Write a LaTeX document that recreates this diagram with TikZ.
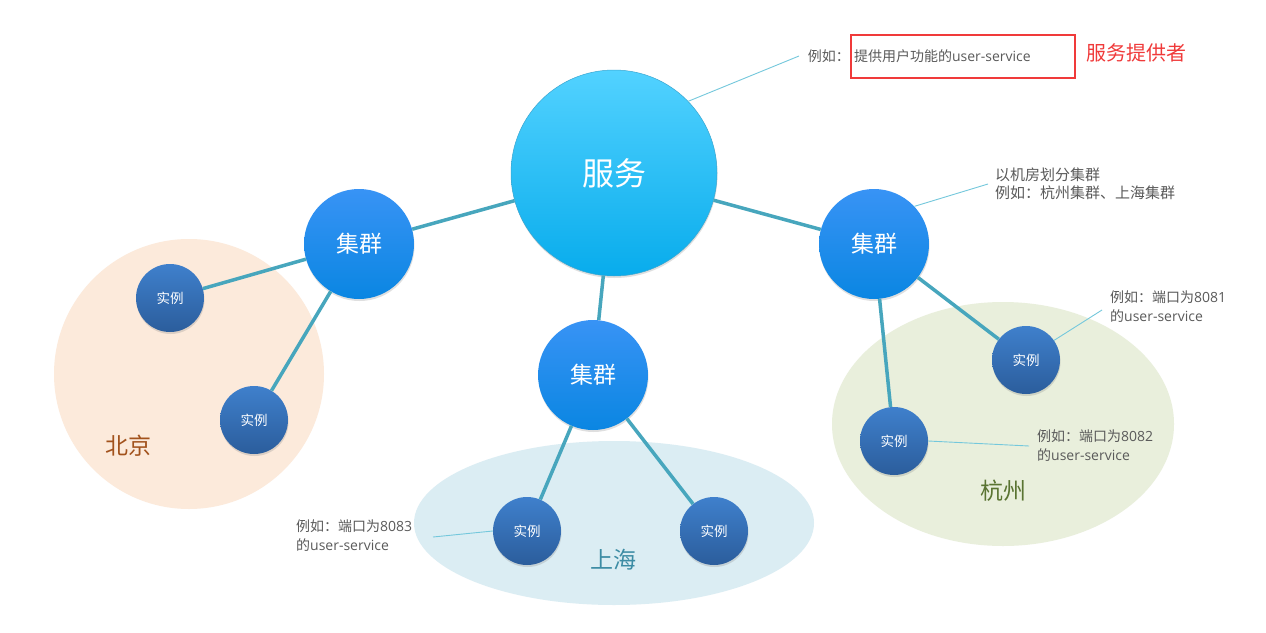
\documentclass[tikz,border=0pt]{standalone}
\usepackage{fontspec}
\setmainfont{Noto Sans CJK SC}
\newfontfamily\latf{Open Sans}
\usetikzlibrary{shadows}
\definecolor{svcTop}{HTML}{52D2FF}
\definecolor{svcBot}{HTML}{08ACEC}
\definecolor{svcEdge}{HTML}{3AA6D0}
\definecolor{cluTop}{HTML}{3893F5}
\definecolor{cluBot}{HTML}{0A86E2}
\definecolor{insTop}{HTML}{3F80CC}
\definecolor{insBot}{HTML}{2B5D9C}
\definecolor{linkCol}{HTML}{47A6BD}
\definecolor{annLine}{HTML}{74C8DC}
\definecolor{annText}{HTML}{5A5A5A}
\definecolor{bjFill}{HTML}{FCEADB}
\definecolor{shFill}{HTML}{DBEDF3}
\definecolor{hzFill}{HTML}{E9EFDC}
\definecolor{bjText}{HTML}{A2521C}
\definecolor{shText}{HTML}{3C8CA4}
\definecolor{hzText}{HTML}{5A7432}
\definecolor{redCol}{HTML}{F03A3A}
\newcommand{\lt}[1]{{\latf #1}}
\begin{document}
\begin{tikzpicture}[x=1pt,y=-1pt,
  ball/.style={circle, inner sep=0pt, text=white,
    drop shadow={opacity=0.25, shadow xshift=0.5pt, shadow yshift=-2pt}},
  svcball/.style={ball, minimum size=206pt, top color=svcTop, bottom color=svcBot,
    draw=svcEdge, line width=0.5pt, font=\fontsize{32}{36}\selectfont},
  cluball/.style={ball, minimum size=110pt, top color=cluTop, bottom color=cluBot,
    font=\fontsize{23}{26}\selectfont},
  insball/.style={ball, minimum size=68pt, top color=insTop, bottom color=insBot,
    font=\fontsize{13.5}{16}\selectfont},
  link/.style={draw=linkCol, line width=3.5pt},
  annlink/.style={draw=annLine, line width=0.9pt},
  annot/.style={inner sep=0pt, text=annText, align=left, font=\fontsize{14}{19}\selectfont},
  place/.style={inner sep=0pt, font=\fontsize{23}{26}\selectfont}
]
\useasboundingbox[fill=white] (0,0) rectangle (1266,632);

% regions
\fill[bjFill] (189,374) circle[radius=135];
\fill[shFill] (614,523) ellipse[x radius=200, y radius=82];
\fill[hzFill] (1003,424) ellipse[x radius=171, y radius=122];

\node[place, text=bjText] (bj) at (128,446) {北京};
\node[place, text=shText] (sh) at (613,560) {上海};
\node[place, text=hzText] (hz) at (1003,491) {杭州};

% nodes
\node[svcball] (svc) at (614,173) {服务};
\node[cluball] (cL) at (359,244) {集群};
\node[cluball] (cM) at (593,375) {集群};
\node[cluball] (cR) at (874,244) {集群};
\node[insball] (b1) at (170,298) {实例};
\node[insball] (b2) at (254,420) {实例};
\node[insball] (s1) at (527,531) {实例};
\node[insball] (s2) at (714,531) {实例};
\node[insball] (h1) at (1026,360) {实例};
\node[insball] (h2) at (894,441) {实例};

% connectors
\draw[link] (svc) -- (cL);
\draw[link] (svc) -- (cM);
\draw[link] (svc) -- (cR);
\draw[link] (cL) -- (b1);
\draw[link] (cL) -- (b2);
\draw[link] (cM) -- (s1);
\draw[link] (cM) -- (s2);
\draw[link] (cR) -- (h1);
\draw[link] (cR) -- (h2);

% annotations
\node[draw=redCol, line width=2pt, anchor=west, minimum height=43pt,
      text width=218pt, inner xsep=3pt, inner ysep=0pt, align=left,
      text=annText, font=\fontsize{14}{19}\selectfont] (box) at (850,56.5) {提供用户功能的\lt{user-service}};
\node[annot, anchor=east] (eg) at (box.west) {例如：};
\node[inner sep=0pt, anchor=west, text=redCol, font=\fontsize{20}{24}\selectfont] (prov) at (1086,53) {服务提供者};
\coordinate (aSvc) at (799,56);
\draw[annlink] (svc.44) -- (aSvc);

\node[annot, anchor=west, font=\fontsize{15}{18.5}\selectfont] (tR) at (995,184) {以机房划分集群\\例如：杭州集群、上海集群};
\coordinate (aR) at (988,184);
\draw[annlink] (cR.43) -- (aR);

\node[annot, anchor=west] (tH1) at (1110,306.5) {例如：端口为\lt{8081}\\的\lt{user-service}};
\coordinate (aH1) at (1102,310);
\draw[annlink] (h1.35) -- (aH1);

\node[annot, anchor=west] (tH2) at (1037,446) {例如：端口为\lt{8082}\\的\lt{user-service}};
\coordinate (aH2) at (1029,446);
\draw[annlink] (h2.east) -- (aH2);

\node[annot, anchor=west] (tS1) at (296,535.5) {例如：端口为\lt{8083}\\的\lt{user-service}};
\coordinate (aS1) at (433,537);
\draw[annlink] (s1.west) -- (aS1);
\end{tikzpicture}
\end{document}
